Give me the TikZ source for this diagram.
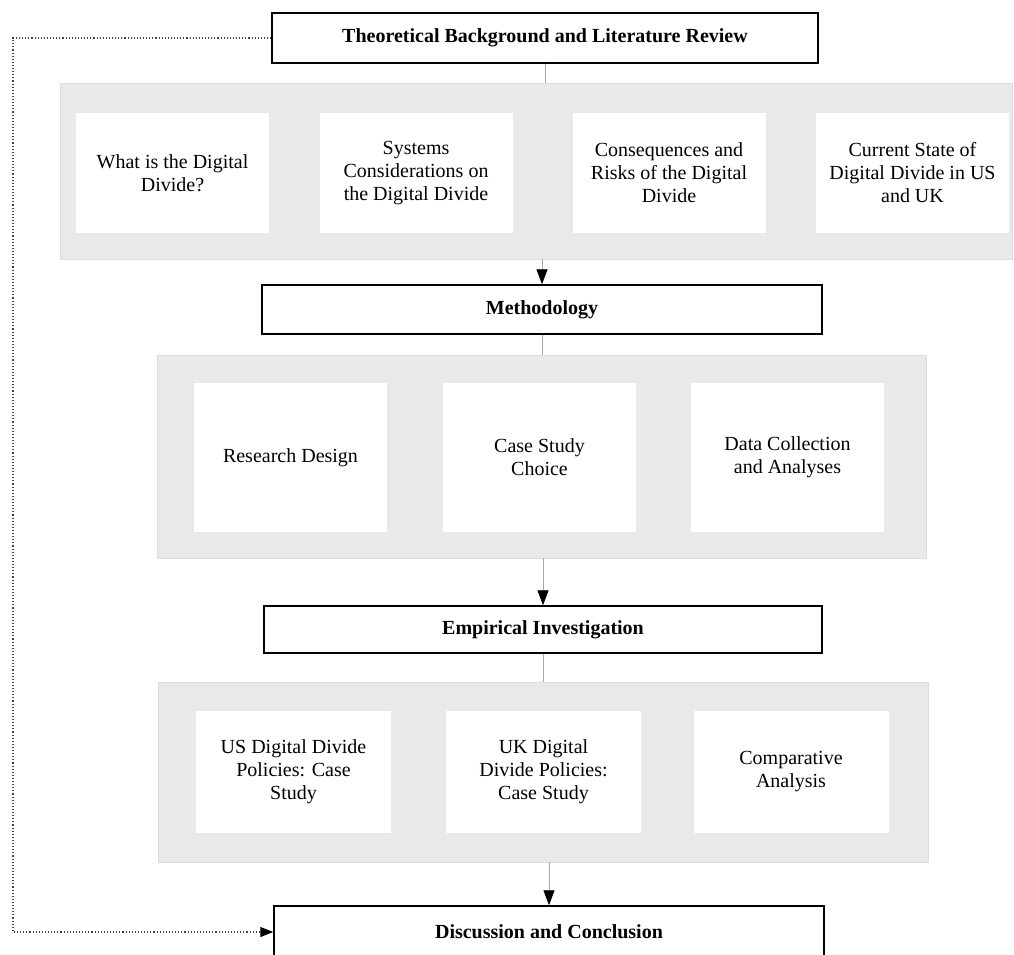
\documentclass[tikz,border=0pt]{standalone}
\usepackage{fontspec}
\setmainfont{Liberation Serif}
\usetikzlibrary{arrows.meta,positioning}
\definecolor{panelgray}{HTML}{E9E9E9}
\definecolor{paneledge}{HTML}{DDDDDD}
\definecolor{linkgray}{HTML}{A8A8A8}

\begin{document}
\begin{tikzpicture}[x=1pt,y=-1pt,
	titlebox/.style={draw=black,line width=1.5pt,fill=white,inner sep=0pt,font=\fontsize{20}{23}\selectfont\bfseries},
	panel/.style={fill=panelgray,draw=paneledge,line width=0.8pt,inner sep=0pt},
	subbox/.style={fill=white,inner sep=0pt,align=center,minimum width=193pt,font=\fontsize{20}{23}\selectfont},
	link/.style={draw=linkgray,line width=0.9pt},
	flow/.style={link,-{Triangle[color=black,length=15pt,width=11pt]}}]
	\useasboundingbox (0,0) rectangle (1014,955);
	\clip (0,0) rectangle (1014,955);
	% main stages
	\node[titlebox,minimum width=546pt,minimum height=50pt] (theory) at (545,38) {Theoretical Background and Literature Review};
	\node[titlebox,minimum width=560pt,minimum height=49pt] (method) at (542,309.5) {Methodology};
	\node[titlebox,minimum width=558pt,minimum height=47pt] (empir) at (543,629.5) {Empirical Investigation};
	\node[titlebox,minimum width=550pt,minimum height=52pt] (final) at (549,932) {Discussion and Conclusion};
	% gray panels
	\node[panel,minimum width=952pt,minimum height=176pt] (panelA) at (536,171) {};
	\node[panel,minimum width=769pt,minimum height=203pt] (panelB) at (541.5,456.5) {};
	\node[panel,minimum width=770pt,minimum height=180pt] (panelC) at (543.5,772) {};
	% topics
	\foreach \x/\t [count=\i] in {172.5/{What is the Digital\\Divide?},416/{Systems\\Considerations on\\the Digital Divide},669/{Consequences and\\Risks of the Digital\\Divide},912.5/{Current State of\\Digital Divide in US\\and UK}}
	\node[subbox,minimum height=120pt] (lit\i) at (\x,173) {\t};
	\foreach \x/\t [count=\i] in {290.5/{Research Design},539.5/{Case Study\\Choice},787.5/{Data Collection\\and Analyses}}
	\node[subbox,minimum height=149pt] (meth\i) at (\x,457.5) {\t};
	\foreach \x/\t [count=\i] in {293.5/{US Digital Divide\\Policies: Case\\Study},543.5/{UK Digital\\Divide Policies:\\Case Study},791/{Comparative\\Analysis}}
	\node[subbox,minimum width=195pt,minimum height=122pt] (emp\i) at (\x,772) {\t};
	% connectors
	\draw[link] (theory.south) -- (theory.south |- panelA.north);
	\draw[flow] (method.north |- panelA.south) -- (method.north);
	\draw[link] (method.south) -- (method.south |- panelB.north);
	\draw[flow] (empir.north |- panelB.south) -- (empir.north);
	\draw[link] (empir.south) -- (empir.south |- panelC.north);
	\draw[flow] (final.north |- panelC.south) -- (final.north);
	% feedback loop
	\coordinate (loop) at (13,38);
	\draw[black!75,line width=1.1pt,dotted,-{Triangle[color=black,length=13pt,width=10pt]}] (theory.west) -- (loop) |- (final.west);
\end{tikzpicture}
\end{document}
